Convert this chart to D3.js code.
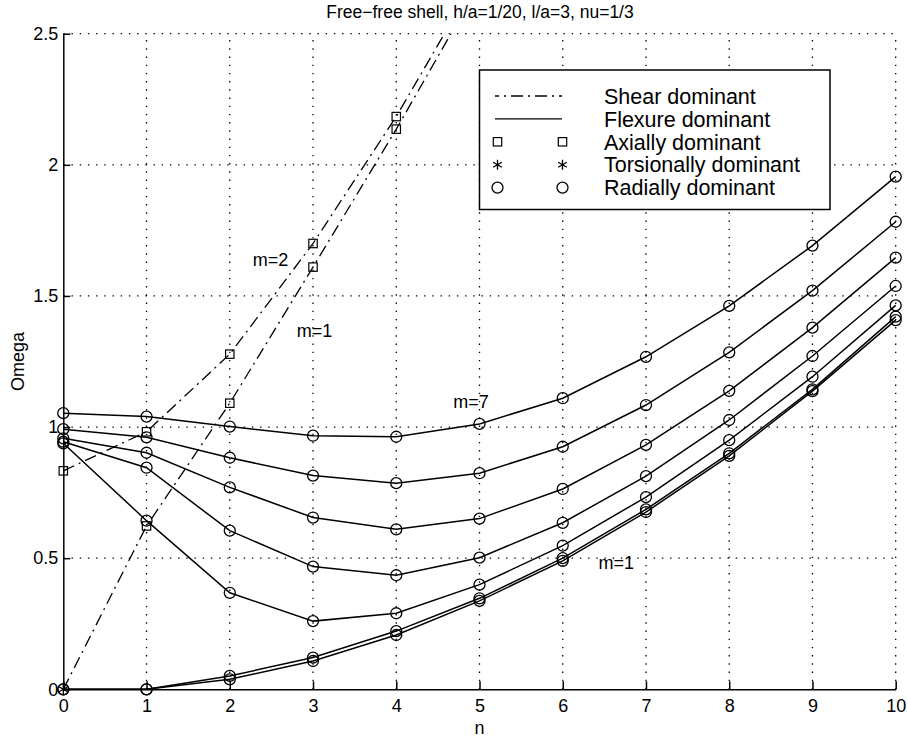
<!DOCTYPE html>
<html>
<head>
<meta charset="utf-8">
<script src="https://cdn.jsdelivr.net/npm/d3@7"></script>
<style>
  body { margin: 0; background: #fff; }
  text { font-family: "Liberation Sans", Arial, Helvetica, sans-serif; fill: #000; }
</style>
</head>
<body>
<svg id="chart" width="908" height="738"></svg>
<script>
// n values and flexure (solid) branches, m = 1..7
var nValues = [0, 1, 2, 3, 4, 5, 6, 7, 8, 9, 10];
var flexureM1 = [0, 0, 0.038, 0.108, 0.207, 0.337, 0.490, 0.676, 0.890, 1.137, 1.408];
var flexureM2 = [0, 0, 0.051, 0.121, 0.222, 0.347, 0.500, 0.686, 0.900, 1.144, 1.421];
var flexureM3 = [0.938, 0.643, 0.368, 0.260, 0.290, 0.399, 0.548, 0.733, 0.950, 1.192, 1.464];
var flexureM4 = [0.944, 0.845, 0.605, 0.468, 0.435, 0.502, 0.635, 0.813, 1.027, 1.271, 1.538];
var flexureM5 = [0.957, 0.902, 0.770, 0.655, 0.610, 0.651, 0.764, 0.932, 1.138, 1.379, 1.646];
var flexureM6 = [0.992, 0.961, 0.883, 0.815, 0.786, 0.824, 0.925, 1.084, 1.285, 1.520, 1.783];
var flexureM7 = [1.053, 1.040, 1.002, 0.967, 0.963, 1.012, 1.110, 1.268, 1.462, 1.692, 1.955];

// shear (dash-dot) branches, m = 1, 2
var shearN = [0, 1, 2, 3, 4, 5];
var shearM1 = [0, 0.623, 1.091, 1.610, 2.136, 2.69];
var shearM2 = [0.833, 0.982, 1.278, 1.700, 2.184, 2.73];
var shearM1Modes = ["torsional", "axial", "axial", "axial", "axial", "axial"];
var shearM2Modes = ["axial", "axial", "axial", "axial", "axial", "axial"];

var xTicks = [0, 1, 2, 3, 4, 5, 6, 7, 8, 9, 10];
var yTicks = [0, 0.5, 1, 1.5, 2, 2.5];

var legendNames = ["Shear dominant", "Flexure dominant", "Axially dominant", "Torsionally dominant", "Radially dominant"];
var legendKinds = ["dashdot", "solid", "square", "asterisk", "circle"];

var labelTexts = ["m=7", "m=1", "m=2", "m=1"];
var labelN = [4.685, 6.43, 2.275, 2.804];
var labelV = [1.097, 0.483, 1.640, 1.370];

var titleText = "Free\u2212free shell, h/a=1/20, l/a=3, nu=1/3";

var svg = d3.select("#chart");
var x = d3.scaleLinear().domain([0, 10]).range([63.3, 895.7]);
var y = d3.scaleLinear().domain([0, 2.5]).range([689.3, 33.7]);
var dashDot = "12,5,2,5";

svg.append("rect").attr("width", 908).attr("height", 738).attr("fill", "#fff");

// clip lines to the axes box (markers at the side edges stay whole)
svg.append("clipPath").attr("id", "plotclip")
  .append("rect")
  .attr("x", x(0) - 10).attr("y", y(2.5))
  .attr("width", x(10) - x(0) + 20).attr("height", y(0) - y(2.5) + 10);

// dotted grid
var grid = svg.append("g");
grid.selectAll(".gx").data(xTicks.slice(1)).enter().append("line")
  .attr("x1", function(d) { return x(d); }).attr("x2", function(d) { return x(d); })
  .attr("y1", y(0)).attr("y2", y(2.5))
  .attr("stroke", "#000").attr("stroke-width", 1.3).attr("stroke-dasharray", "1.4,6.8");
grid.selectAll(".gy").data(yTicks.slice(1)).enter().append("line")
  .attr("x1", x(0)).attr("x2", x(10))
  .attr("y1", function(d) { return y(d); }).attr("y2", function(d) { return y(d); })
  .attr("stroke", "#000").attr("stroke-width", 1.3).attr("stroke-dasharray", "1.4,6.8");

var plot = svg.append("g").attr("clip-path", "url(#plotclip)");

var line = d3.line()
  .x(function(d) { return x(d.n); })
  .y(function(d) { return y(d.v); });

function pairs(ns, vs) {
  return vs.map(function(v, i) { return { n: ns[i], v: v }; });
}

var flexure = [flexureM1, flexureM2, flexureM3, flexureM4, flexureM5, flexureM6, flexureM7];
var shear = [
  { pts: pairs(shearN, shearM1), modes: shearM1Modes },
  { pts: pairs(shearN, shearM2), modes: shearM2Modes }
];

shear.forEach(function(s) {
  plot.append("path")
    .attr("d", line(s.pts))
    .attr("fill", "none").attr("stroke", "#000").attr("stroke-width", 1.3)
    .attr("stroke-dasharray", dashDot);
});

flexure.forEach(function(vals) {
  plot.append("path")
    .attr("d", line(pairs(nValues, vals)))
    .attr("fill", "none").attr("stroke", "#000").attr("stroke-width", 1.5);
});

function drawMarker(g, kind, cx, cy) {
  if (kind === "circle") {
    g.append("circle").attr("cx", cx).attr("cy", cy).attr("r", 5.5)
      .attr("fill", "none").attr("stroke", "#000").attr("stroke-width", 1.3);
  } else if (kind === "square" || kind === "axial") {
    g.append("rect").attr("x", cx - 4.2).attr("y", cy - 4.2).attr("width", 8.4).attr("height", 8.4)
      .attr("fill", "none").attr("stroke", "#000").attr("stroke-width", 1.2);
  } else {
    var r = 5, p = "";
    [0, 60, 120].forEach(function(a) {
      var t = a * Math.PI / 180;
      p += "M" + (cx - r * Math.sin(t)) + "," + (cy - r * Math.cos(t)) +
           "L" + (cx + r * Math.sin(t)) + "," + (cy + r * Math.cos(t));
    });
    g.append("path").attr("d", p).attr("stroke", "#000").attr("stroke-width", 1.3).attr("fill", "none");
  }
}

shear.forEach(function(s) {
  s.pts.forEach(function(d, i) { drawMarker(plot, s.modes[i], x(d.n), y(d.v)); });
});
flexure.forEach(function(vals) {
  pairs(nValues, vals).forEach(function(d) { drawMarker(plot, "circle", x(d.n), y(d.v)); });
});

// axes: only left and bottom, ticks pointing in
var xAxis = svg.append("g").attr("transform", "translate(0," + y(0) + ")")
  .call(d3.axisBottom(x).tickValues(xTicks).tickFormat(d3.format("d")).tickSize(-8).tickSizeOuter(0).tickPadding(10));
var yAxis = svg.append("g").attr("transform", "translate(" + x(0) + ",0)")
  .call(d3.axisLeft(y).tickValues(yTicks).tickFormat(function(d) { return String(d); }).tickSize(-7).tickSizeOuter(0).tickPadding(5));
[xAxis, yAxis].forEach(function(a) {
  a.selectAll("path, line").attr("stroke", "#000").attr("stroke-width", 1.5);
  a.selectAll("text").attr("font-size", 18).attr("fill", "#000")
    .style("font-family", "'Liberation Sans', Arial, sans-serif");
});

// titles
svg.append("text").attr("x", 480).attr("y", 18).attr("text-anchor", "middle")
  .attr("font-size", 17.5).text(titleText);
svg.append("text").attr("x", x(5)).attr("y", 734).attr("text-anchor", "middle")
  .attr("font-size", 18).text("n");
svg.append("text").attr("transform", "translate(24," + ((y(0) + y(2.5)) / 2) + ") rotate(-90)")
  .attr("text-anchor", "middle").attr("font-size", 18).text("Omega");

// in-plot labels
labelTexts.forEach(function(t, i) {
  svg.append("text").attr("x", x(labelN[i])).attr("y", y(labelV[i]))
    .attr("dy", "0.36em").attr("font-size", 18).text(t);
});

// legend
var leg = svg.append("g");
leg.append("rect").attr("x", 479.5).attr("y", 70).attr("width", 350.5).attr("height", 139.5)
  .attr("fill", "#fff").attr("stroke", "#000").attr("stroke-width", 1.5);
legendNames.forEach(function(name, i) {
  var cy = 96 + i * 22.9;
  var k = legendKinds[i];
  if (k === "dashdot" || k === "solid") {
    leg.append("line").attr("x1", 495).attr("x2", 562).attr("y1", cy).attr("y2", cy)
      .attr("stroke", "#000").attr("stroke-width", 1.3)
      .attr("stroke-dasharray", k === "dashdot" ? dashDot : null)
      .attr("stroke-dashoffset", k === "dashdot" ? 8 : null);
  } else {
    drawMarker(leg, k, 497.5, cy);
    drawMarker(leg, k, 562.5, cy);
  }
  leg.append("text").attr("x", 604).attr("y", cy).attr("dy", "0.36em")
    .attr("font-size", 21.5).text(name);
});
</script>
</body>
</html>
